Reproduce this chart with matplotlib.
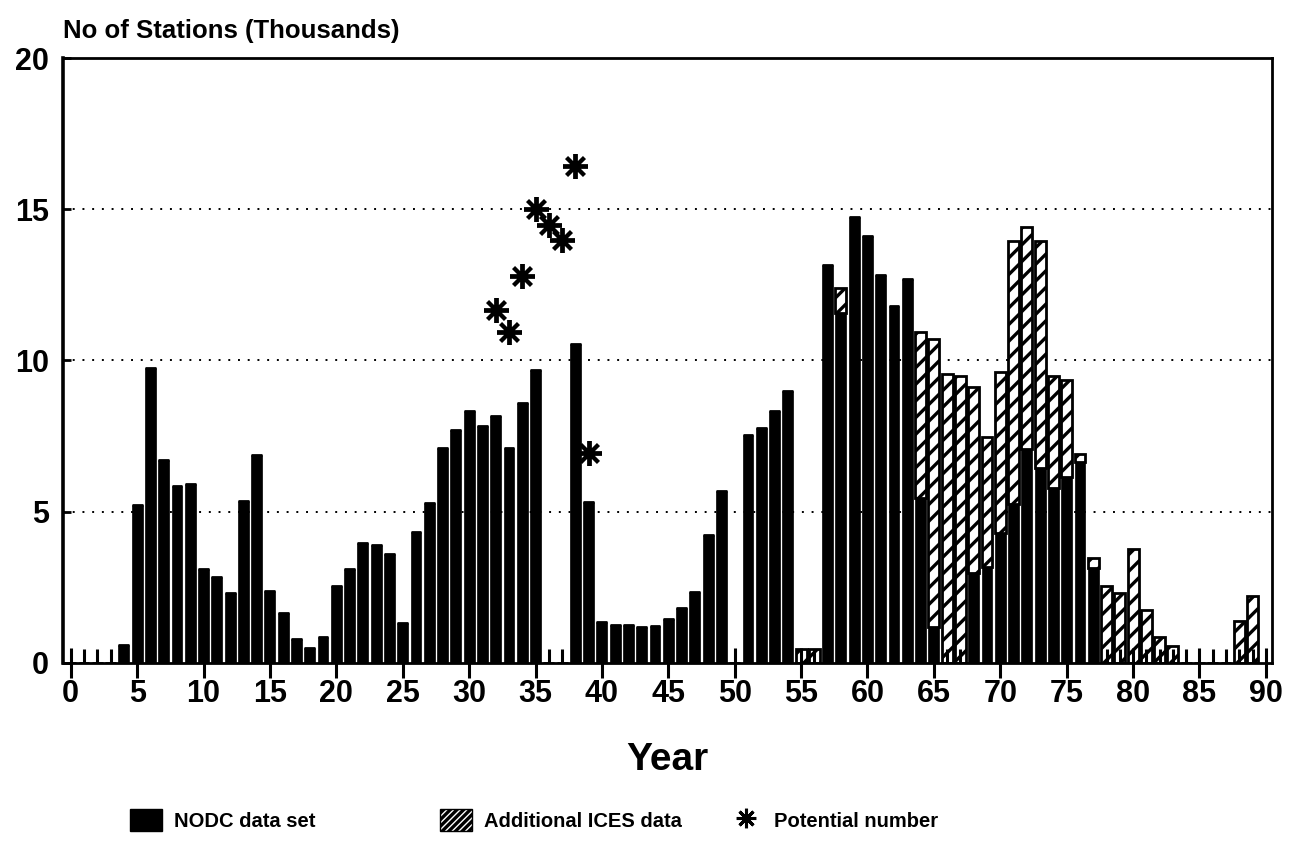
import numpy as np
import matplotlib
matplotlib.use('Agg')
import matplotlib.pyplot as plt
from matplotlib.patches import Patch
from matplotlib.lines import Line2D
from matplotlib.ticker import MultipleLocator

years = np.arange(0, 90)

# stations in thousands, NODC data set (years 0..89)
nodc = [0, 0, 0, 0, 0.6, 5.22, 9.75, 6.71, 5.86, 5.91,
        3.11, 2.84, 2.30, 5.35, 6.89, 2.39, 1.66, 0.78, 0.5, 0.85,
        2.53, 3.10, 3.98, 3.91, 3.59, 1.32, 4.33, 5.28, 7.1, 7.69,
        8.32, 7.83, 8.18, 7.11, 8.61, 9.70, 0, 0, 10.54, 5.31,
        1.37, 1.25, 1.25, 1.18, 1.21, 1.44, 1.83, 2.34, 4.22, 5.70,
        0, 7.53, 7.76, 8.32, 8.99, 0, 0, 13.17, 11.56, 14.76,
        14.1, 12.83, 11.8, 12.71, 5.45, 1.2, 0, 0, 2.98, 3.17,
        4.3, 5.24, 7.06, 6.43, 5.79, 6.14, 6.66, 3.15, 0, 0,
        0, 0, 0, 0, 0, 0, 0, 0, 0, 0]

# additional ICES data stacked on top
ices = [0] * 55 + [0.45, 0.45, 0, 0.84, 0, 0, 0, 0, 0, 5.49,
                   9.51, 9.55, 9.5, 6.15, 4.31, 5.33, 8.71, 7.35, 7.52, 3.71,
                   3.22, 0.26, 0.32, 2.54, 2.32, 3.76, 1.75, 0.87, 0.56, 0,
                   0, 0, 0, 1.4, 2.2]

# potential number of stations
pot_years = [32, 33, 34, 35, 36, 37, 38, 39]
pot_vals = [11.66, 10.94, 12.8, 15.01, 14.47, 13.98, 16.43, 6.94]

plt.rcParams['font.family'] = ['Liberation Sans', 'DejaVu Sans']
plt.rcParams['font.weight'] = 'bold'
plt.rcParams['hatch.linewidth'] = 2.4

fig = plt.figure(figsize=(12.89, 8.48), dpi=100)
ax = fig.add_axes([0.0489, 0.2182, 0.9379, 0.7134])

ax.bar(years, nodc, width=0.82, color='black', edgecolor='black', linewidth=0.5, zorder=1)
ax.bar(years, ices, width=0.82, bottom=nodc, color='white', edgecolor='black',
       linewidth=2, hatch='//', zorder=1)
ax.plot(pot_years, pot_vals, linestyle='none', marker=(8, 2, 0), markersize=18,
        markeredgewidth=2.8, color='black', zorder=3)

# dotted horizontal grid behind the bars
for yv in [5, 10, 15]:
    ax.axhline(yv, color='black', linestyle=(0, (1, 4)), linewidth=1.4, zorder=0)

ax.set_xlim(-0.58, 90.46)
ax.set_ylim(0, 20)
ax.set_xticks(np.arange(0, 91, 5))
ax.xaxis.set_minor_locator(MultipleLocator(1))
ax.set_yticks([0, 5, 10, 15, 20])

ax.tick_params(axis='x', which='major', direction='inout', length=21, width=2.2,
               labelsize=22, pad=1)
ax.tick_params(axis='x', which='minor', direction='in', length=10, width=2.2)
ax.tick_params(axis='y', which='major', direction='in', length=6, width=2,
               labelsize=22, pad=10)
for s in ax.spines.values():
    s.set_linewidth(2)
ax.spines['left'].set_linewidth(2.6)

ax.set_xlabel('Year', fontsize=28, fontweight='bold', labelpad=24)
fig.text(0.0489, 0.964, 'No of Stations (Thousands)', fontsize=18.5,
         fontweight='bold', ha='left', va='center')

leg_kw = dict(frameon=False, loc='center left', borderpad=0, handletextpad=0.6,
              prop={'weight': 'bold', 'size': 14.5}, handlelength=1.6, handleheight=1.3)
fig.legend(handles=[Patch(facecolor='black', edgecolor='black')],
           labels=['NODC data set'], bbox_to_anchor=(120 / 1289, 1 - 820 / 848), **leg_kw)
fig.legend(handles=[Patch(facecolor='white', edgecolor='black', hatch='/////')],
           labels=['Additional ICES data'], bbox_to_anchor=(430 / 1289, 1 - 820 / 848), **leg_kw)
fig.legend(handles=[Line2D([], [], linestyle='none', marker=(8, 2, 0), markersize=14,
                           markeredgewidth=2.2, color='black')],
           labels=['Potential number'], bbox_to_anchor=(720 / 1289, 1 - 820 / 848), **leg_kw)

plt.savefig('out.png', dpi=100)
